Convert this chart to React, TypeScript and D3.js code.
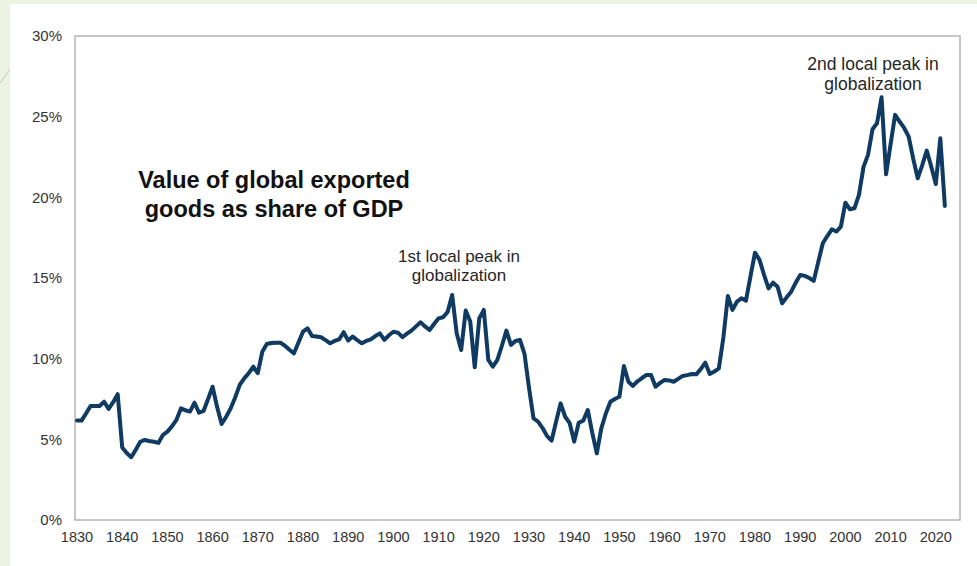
import React from 'react';
import * as d3 from 'd3';

// Value of global exported goods as share of GDP (%), one value per year from 1830
const startYear = 1830;
const exportShare: number[] = [
  // 1830-1839
  6.16, 6.16, 6.6, 7.07, 7.07, 7.07, 7.33, 6.88, 7.3, 7.8,
  // 1840-1849
  4.5, 4.15, 3.89, 4.35, 4.85, 4.96, 4.9, 4.85, 4.78, 5.27,
  // 1850-1859
  5.48, 5.8, 6.2, 6.92, 6.8, 6.72, 7.27, 6.65, 6.76, 7.5,
  // 1860-1869
  8.26, 7.0, 5.95, 6.4, 6.92, 7.6, 8.37, 8.78, 9.1, 9.5,
  // 1870-1879
  9.1, 10.43, 10.91, 10.97, 10.99, 10.99, 10.8, 10.55, 10.33, 11.0,
  // 1880-1889
  11.67, 11.88, 11.41, 11.37, 11.33, 11.15, 10.95, 11.1, 11.2, 11.64,
  // 1890-1899
  11.12, 11.37, 11.15, 10.95, 11.1, 11.2, 11.4, 11.57, 11.16, 11.45,
  // 1900-1909
  11.67, 11.61, 11.33, 11.55, 11.74, 12.0, 12.25, 12.0, 11.78, 12.15,
  // 1910-1919
  12.5, 12.57, 12.9, 13.95, 11.57, 10.54, 12.98, 12.3, 9.47, 12.5,
  // 1920-1929
  13.02, 9.92, 9.5, 9.92, 10.8, 11.74, 10.85, 11.1, 11.16, 10.3,
  // 1930-1939
  8.2, 6.3, 6.1, 5.7, 5.2, 4.92, 6.1, 7.23, 6.4, 6.0,
  // 1940-1949
  4.86, 6.03, 6.16, 6.82, 5.4, 4.13, 5.68, 6.6, 7.33, 7.5,
  // 1950-1959
  7.64, 9.55, 8.57, 8.31, 8.6, 8.8, 8.99, 8.99, 8.26, 8.5,
  // 1960-1969
  8.68, 8.65, 8.57, 8.75, 8.93, 8.98, 9.05, 9.03, 9.35, 9.75,
  // 1970-1979
  9.05, 9.2, 9.4, 11.3, 13.89, 13.02, 13.53, 13.74, 13.6, 15.1,
  // 1980-1989
  16.57, 16.12, 15.2, 14.36, 14.71, 14.46, 13.43, 13.8, 14.15, 14.7,
  // 1990-1999
  15.19, 15.13, 15.0, 14.82, 16.0, 17.15, 17.6, 18.02, 17.88, 18.18,
  // 2000-2009
  19.67, 19.26, 19.32, 20.15, 21.87, 22.63, 24.22, 24.59, 26.2, 21.43,
  // 2010-2019
  23.3, 25.11, 24.7, 24.3, 23.76, 22.4, 21.18, 22.0, 22.9, 21.9,
  // 2020-2022
  20.83, 23.66, 19.47,
];

const yearTicks = d3.range(1830, 2021, 10);
const pctTicks = [0, 5, 10, 15, 20, 25, 30];

const titleLines = ['Value of global exported', 'goods as share of GDP'];
const firstPeakLines = ['1st local peak in', 'globalization'];
const secondPeakLines = ['2nd local peak in', 'globalization'];

const W = 977;
const H = 566;
const box = { left: 75, right: 960, top: 36, bottom: 520 };

export default function App() {
  const x = d3.scaleLinear().domain([1830, 2020]).range([77, 935.8]);
  const y = d3.scaleLinear().domain([0, 30]).range([box.bottom, box.top]);

  const data = exportShare.map((v, i) => ({ year: startYear + i, v }));
  const line = d3
    .line<{ year: number; v: number }>()
    .x((d) => x(d.year))
    .y((d) => y(d.v));

  const font = 'Arial, "Liberation Sans", Helvetica, sans-serif';

  return (
    <div style={{ position: 'absolute', left: 0, top: 0 }}>
      <svg width={W} height={H} style={{ display: 'block', fontFamily: font }}>
        {/* slide background */}
        <rect width={W} height={H} fill="#eef2e3" />
        <line x1={0} y1={83} x2={11} y2={68} stroke="#cbd6b6" strokeWidth={1.2} />
        <rect x={10} y={4} width={W - 10} height={H - 4} fill="#ffffff" />

        {/* plot frame */}
        <rect
          x={box.left}
          y={box.top}
          width={box.right - box.left}
          height={box.bottom - box.top}
          fill="none"
          stroke="#b4b4b4"
          strokeWidth={1.5}
        />

        {/* y axis labels */}
        {pctTicks.map((t) => (
          <text
            key={t}
            x={62}
            y={y(t)}
            dy="0.35em"
            textAnchor="end"
            fontSize={15}
            fill="#333"
          >
            {t}%
          </text>
        ))}

        {/* x axis labels */}
        {yearTicks.map((t) => (
          <text key={t} x={x(t)} y={537} dy="0.35em" textAnchor="middle" fontSize={14.5} fill="#333">
            {t}
          </text>
        ))}

        {/* series */}
        <path
          d={line(data) || ''}
          fill="none"
          stroke="#0f3a62"
          strokeWidth={4}
          strokeLinejoin="round"
          strokeLinecap="round"
        />

        {/* title */}
        {titleLines.map((s, i) => (
          <text
            key={s}
            x={274}
            y={188 + i * 29}
            textAnchor="middle"
            fontSize={23.5}
            fontWeight="bold"
            fill="#111"
          >
            {s}
          </text>
        ))}

        {/* annotations */}
        {firstPeakLines.map((s, i) => (
          <text key={s} x={459} y={262 + i * 19} textAnchor="middle" fontSize={17} fill="#262626">
            {s}
          </text>
        ))}
        {secondPeakLines.map((s, i) => (
          <text key={s} x={873} y={70 + i * 20} textAnchor="middle" fontSize={17.5} fill="#262626">
            {s}
          </text>
        ))}
      </svg>
    </div>
  );
}
